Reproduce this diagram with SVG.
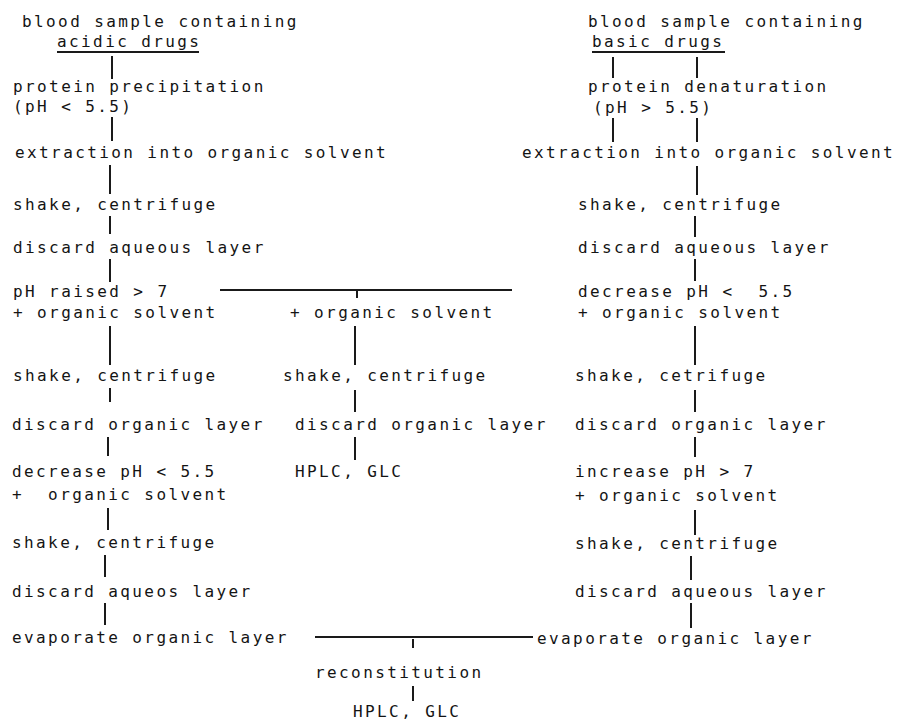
<svg xmlns="http://www.w3.org/2000/svg" width="902" height="721" viewBox="0 0 902 721">
<style>
text{font-family:"DejaVu Sans Mono","Liberation Mono",monospace;font-size:16px;letter-spacing:2.4px;fill:#141414;white-space:pre}
.c line{stroke:#1a1a1a;stroke-width:2;fill:none}
</style>
<rect width="902" height="721" fill="#ffffff"/>
<g class="c" id="connectors">
<line x1="57" y1="52" x2="199" y2="52"/>
<line x1="592" y1="52" x2="725" y2="52"/>
<line x1="112" y1="56" x2="112" y2="79"/>
<line x1="112" y1="117" x2="112" y2="141"/>
<line x1="110" y1="165" x2="110" y2="194"/>
<line x1="110" y1="216" x2="110" y2="234"/>
<line x1="110" y1="259" x2="110" y2="282"/>
<line x1="220" y1="290" x2="512" y2="290"/>
<line x1="357" y1="291" x2="357" y2="298"/>
<line x1="110" y1="326" x2="110" y2="365"/>
<line x1="110" y1="388" x2="110" y2="402"/>
<line x1="108" y1="437" x2="108" y2="456"/>
<line x1="108" y1="508" x2="108" y2="530"/>
<line x1="105" y1="555" x2="105" y2="577"/>
<line x1="105" y1="603" x2="105" y2="625"/>
<line x1="355" y1="326" x2="355" y2="365"/>
<line x1="355" y1="390" x2="355" y2="412"/>
<line x1="355" y1="437" x2="355" y2="460"/>
<line x1="613" y1="57" x2="613" y2="78"/>
<line x1="697" y1="57" x2="697" y2="78"/>
<line x1="613" y1="118" x2="613" y2="142"/>
<line x1="697" y1="118" x2="697" y2="142"/>
<line x1="697" y1="166" x2="697" y2="195"/>
<line x1="695" y1="216" x2="695" y2="237"/>
<line x1="695" y1="259" x2="695" y2="281"/>
<line x1="695" y1="326" x2="695" y2="365"/>
<line x1="695" y1="390" x2="695" y2="412"/>
<line x1="695" y1="437" x2="695" y2="457"/>
<line x1="695" y1="510" x2="695" y2="535"/>
<line x1="691" y1="556" x2="691" y2="580"/>
<line x1="691" y1="603" x2="691" y2="628"/>
<line x1="315" y1="637" x2="533" y2="637"/>
<line x1="413" y1="639" x2="413" y2="648"/>
<line x1="413" y1="686" x2="413" y2="701"/>
</g>
<g id="left-sample"><text x="22" y="27">blood sample containing</text><text x="57" y="47">acidic drugs</text></g>
<g id="left-precip"><text x="13" y="92">protein precipitation</text><text x="13" y="112">(pH &lt; 5.5)</text></g>
<g id="left-extract"><text x="15" y="158">extraction into organic solvent</text></g>
<g id="left-shake1"><text x="13" y="210">shake, centrifuge</text></g>
<g id="left-discard1"><text x="13" y="253">discard aqueous layer</text></g>
<g id="left-raise"><text x="13" y="297">pH raised &gt; 7</text><text x="13" y="318">+ organic solvent</text></g>
<g id="left-shake2"><text x="13" y="381">shake, centrifuge</text></g>
<g id="left-discard2"><text x="12" y="430">discard organic layer</text></g>
<g id="left-decrease"><text x="12" y="477">decrease pH &lt; 5.5</text><text x="12" y="500">+  organic solvent</text></g>
<g id="left-shake3"><text x="12" y="548">shake, centrifuge</text></g>
<g id="left-discard3"><text x="12" y="597">discard aqueos layer</text></g>
<g id="left-evap"><text x="12" y="643">evaporate organic layer</text></g>
<g id="mid-solvent"><text x="290" y="318">+ organic solvent</text></g>
<g id="mid-shake"><text x="283" y="381">shake, centrifuge</text></g>
<g id="mid-discard"><text x="295" y="430">discard organic layer</text></g>
<g id="mid-hplc"><text x="295" y="477">HPLC, GLC</text></g>
<g id="right-sample"><text x="588" y="27">blood sample containing</text><text x="592" y="47">basic drugs</text></g>
<g id="right-denat"><text x="588" y="92">protein denaturation</text><text x="593" y="113">(pH &gt; 5.5)</text></g>
<g id="right-extract"><text x="522" y="158">extraction into organic solvent</text></g>
<g id="right-shake1"><text x="578" y="210">shake, centrifuge</text></g>
<g id="right-discard1"><text x="578" y="253">discard aqueous layer</text></g>
<g id="right-decrease"><text x="578" y="297">decrease pH &lt;  5.5</text><text x="578" y="318">+ organic solvent</text></g>
<g id="right-shake2"><text x="575" y="381">shake, cetrifuge</text></g>
<g id="right-discard2"><text x="575" y="430">discard organic layer</text></g>
<g id="right-increase"><text x="575" y="477">increase pH &gt; 7</text><text x="575" y="501">+ organic solvent</text></g>
<g id="right-shake3"><text x="575" y="549">shake, centrifuge</text></g>
<g id="right-discard3"><text x="575" y="597">discard aqueous layer</text></g>
<g id="right-evap"><text x="537" y="644">evaporate organic layer</text></g>
<g id="reconstitution"><text x="315" y="678">reconstitution</text></g>
<g id="final-hplc"><text x="353" y="717">HPLC, GLC</text></g>
</svg>
